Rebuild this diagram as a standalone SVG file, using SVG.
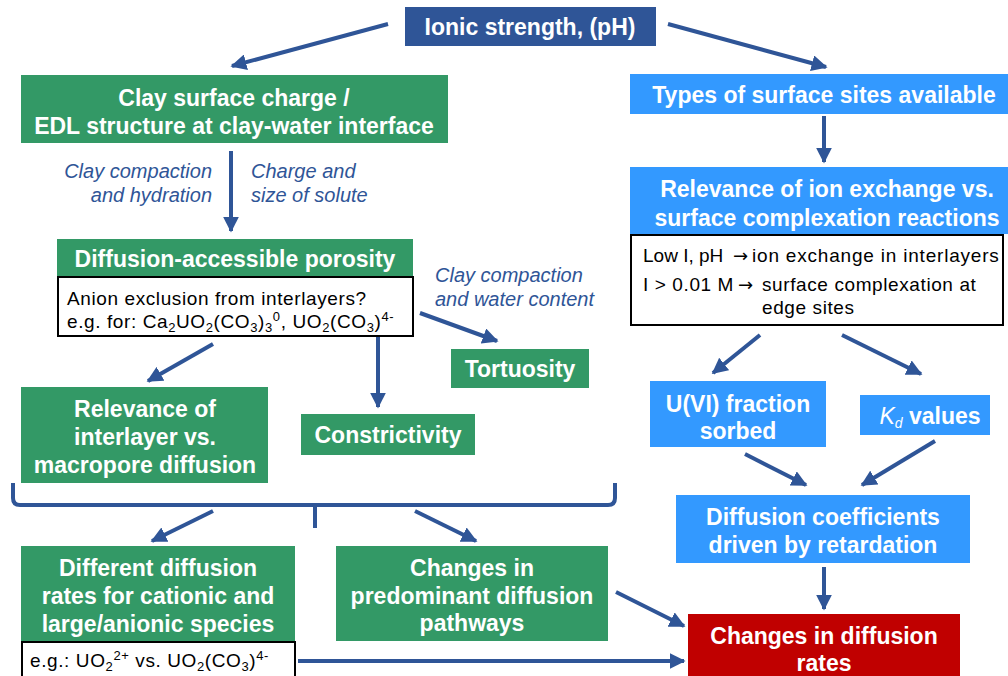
<svg xmlns="http://www.w3.org/2000/svg" width="1008" height="676" viewBox="0 0 1008 676">
  <defs>
    <marker id="arrow" viewBox="0 0 10 10" refX="9" refY="5" markerWidth="4" markerHeight="4" orient="auto" markerUnits="strokeWidth">
      <path d="M0,0 L10,5 L0,10 z" fill="#2F5597"/>
    </marker>
    <style>
      .green { fill: #339966; }
      .lblue { fill: #3399FF; }
      .dblue { fill: #2F5597; }
      .red { fill: #C00000; }
      .note { fill: #FFFFFF; stroke: #000000; stroke-width: 2; }
      .t { font-family: "Liberation Sans", Arial, sans-serif; font-weight: bold; font-size: 23px; fill: #FFFFFF; text-anchor: middle; }
      .n { font-family: "Liberation Sans", Arial, sans-serif; font-size: 19px; letter-spacing: 0.6px; fill: #000000; }
      .i { font-family: "Liberation Sans", Arial, sans-serif; font-style: italic; font-size: 20px; fill: #2F5597; }
      .c { stroke: #2F5597; stroke-width: 4; fill: none; marker-end: url(#arrow); }
      .brace { stroke: #2F5597; stroke-width: 4; fill: none; }
      .sub { font-size: 13px; }
      .sym { font-family: "DejaVu Sans", sans-serif; font-size: 18px; letter-spacing: 0; fill: #000000; }
    </style>
  </defs>

  <!-- connectors -->
  <g id="connectors">
    <line class="c" x1="388" y1="24" x2="232" y2="66"/>
    <line class="c" x1="668" y1="24" x2="826" y2="67"/>
    <line class="c" x1="231" y1="151" x2="231" y2="231"/>
    <line class="c" x1="824" y1="116" x2="824" y2="162"/>
    <line class="c" x1="420" y1="313" x2="497" y2="341"/>
    <line class="c" x1="213" y1="344" x2="148" y2="381"/>
    <line class="c" x1="378" y1="318" x2="378" y2="407"/>
    <line class="c" x1="760" y1="335" x2="713" y2="373"/>
    <line class="c" x1="842" y1="335" x2="921" y2="374"/>
    <line class="c" x1="745" y1="454" x2="806" y2="485"/>
    <line class="c" x1="935" y1="441" x2="862" y2="485"/>
    <line class="c" x1="824" y1="567" x2="824" y2="609"/>
    <path class="brace" d="M13,483 L13,498 Q13,505 20,505 L608,505 Q615,505 615,498 L615,483 M315,505 L315,528"/>
    <line class="c" x1="213" y1="511" x2="152" y2="541"/>
    <line class="c" x1="415" y1="511" x2="476" y2="541"/>
    <line class="c" x1="616" y1="592" x2="684" y2="626"/>
    <line class="c" x1="298" y1="661" x2="684" y2="661"/>
  </g>

  <g id="ionic-strength">
    <rect class="dblue" x="405" y="7" width="251" height="39"/>
    <text class="t" x="530" y="35">Ionic strength, (pH)</text>
  </g>

  <g id="clay-surface-charge">
    <rect class="green" x="21" y="75" width="427" height="68"/>
    <text class="t" x="234" y="106">Clay surface charge /</text>
    <text class="t" x="234" y="134">EDL structure at clay-water interface</text>
  </g>

  <g id="labels-porosity">
    <text class="i" x="212" y="178" text-anchor="end">Clay compaction</text>
    <text class="i" x="212" y="202" text-anchor="end">and hydration</text>
    <text class="i" x="251" y="178">Charge and</text>
    <text class="i" x="251" y="202">size of solute</text>
  </g>

  <g id="porosity">
    <rect class="green" x="57" y="239" width="356" height="37"/>
    <text class="t" x="235" y="267">Diffusion-accessible porosity</text>
    <rect class="note" x="58" y="277" width="355" height="59"/>
    <text class="n" x="67" y="305">Anion exclusion from interlayers?</text>
    <text class="n" x="67" y="328">e.g. for: Ca<tspan class="sub" dy="4">2</tspan><tspan dy="-4">UO</tspan><tspan class="sub" dy="4">2</tspan><tspan dy="-4">(CO</tspan><tspan class="sub" dy="4">3</tspan><tspan dy="-4">)</tspan><tspan class="sub" dy="4">3</tspan><tspan class="sub" dy="-11">0</tspan><tspan dy="7">, UO</tspan><tspan class="sub" dy="4">2</tspan><tspan dy="-4">(CO</tspan><tspan class="sub" dy="4">3</tspan><tspan dy="-4">)</tspan><tspan class="sub" dy="-7">4-</tspan></text>
  </g>

  <g id="labels-tortuosity">
    <text class="i" x="435" y="282">Clay compaction</text>
    <text class="i" x="435" y="306">and water content</text>
  </g>

  <g id="tortuosity">
    <rect class="green" x="451" y="349" width="138" height="39"/>
    <text class="t" x="520" y="377">Tortuosity</text>
  </g>

  <g id="constrictivity">
    <rect class="green" x="301" y="414" width="174" height="41"/>
    <text class="t" x="388" y="443">Constrictivity</text>
  </g>

  <g id="interlayer-vs-macropore">
    <rect class="green" x="21" y="387" width="247" height="96"/>
    <text class="t" x="145" y="417">Relevance of</text>
    <text class="t" x="145" y="445">interlayer vs.</text>
    <text class="t" x="145" y="473">macropore diffusion</text>
  </g>

  <g id="different-rates">
    <rect class="green" x="21" y="546" width="274" height="95"/>
    <text class="t" x="158" y="576">Different diffusion</text>
    <text class="t" x="158" y="604">rates for cationic and</text>
    <text class="t" x="158" y="632">large/anionic species</text>
    <rect class="note" x="22" y="642" width="273" height="36"/>
    <text class="n" x="30" y="667">e.g.: UO<tspan class="sub" dy="4">2</tspan><tspan class="sub" dy="-11">2+</tspan><tspan dy="7"> vs. UO</tspan><tspan class="sub" dy="4">2</tspan><tspan dy="-4">(CO</tspan><tspan class="sub" dy="4">3</tspan><tspan dy="-4">)</tspan><tspan class="sub" dy="-7">4-</tspan></text>
  </g>

  <g id="predominant-pathways">
    <rect class="green" x="336" y="546" width="272" height="95"/>
    <text class="t" x="472" y="576">Changes in</text>
    <text class="t" x="472" y="604">predominant diffusion</text>
    <text class="t" x="472" y="631">pathways</text>
  </g>

  <g id="surface-sites">
    <rect class="lblue" x="630" y="74" width="378" height="40"/>
    <text class="t" x="824" y="103">Types of surface sites available</text>
  </g>

  <g id="ion-exchange-vs-complexation">
    <rect class="lblue" x="630" y="167" width="378" height="67"/>
    <text class="t" x="827" y="197">Relevance of ion exchange vs.</text>
    <text class="t" x="827" y="226">surface complexation reactions</text>
    <rect class="note" x="631" y="235" width="372" height="90"/>
    <text class="n" x="643" y="262" style="letter-spacing:0">Low I, pH</text>
    <text class="sym" x="733" y="262">→</text>
    <text class="n" x="752" y="262" style="letter-spacing:0.8px">ion exchange in interlayers</text>
    <text class="n" x="643" y="291">I &gt; 0.01 M</text>
    <text class="sym" x="738" y="291">→</text>
    <text class="n" x="762" y="291">surface complexation at</text>
    <text class="n" x="762" y="314">edge sites</text>
  </g>

  <g id="fraction-sorbed">
    <rect class="lblue" x="650" y="381" width="176" height="66"/>
    <text class="t" x="738" y="412">U(VI) fraction</text>
    <text class="t" x="738" y="439">sorbed</text>
  </g>

  <g id="kd-values">
    <rect class="lblue" x="860" y="395" width="130" height="40"/>
    <text class="t" x="930" y="424"><tspan font-style="italic" font-weight="normal">K</tspan><tspan font-style="italic" font-weight="normal" font-size="14" dy="4">d</tspan><tspan dy="-4"> values</tspan></text>
  </g>

  <g id="retardation">
    <rect class="lblue" x="676" y="495" width="294" height="68"/>
    <text class="t" x="823" y="525">Diffusion coefficients</text>
    <text class="t" x="823" y="553">driven by retardation</text>
  </g>

  <g id="diffusion-rates">
    <rect class="red" x="688" y="614" width="272" height="62"/>
    <text class="t" x="824" y="644">Changes in diffusion</text>
    <text class="t" x="824" y="671">rates</text>
  </g>
</svg>
